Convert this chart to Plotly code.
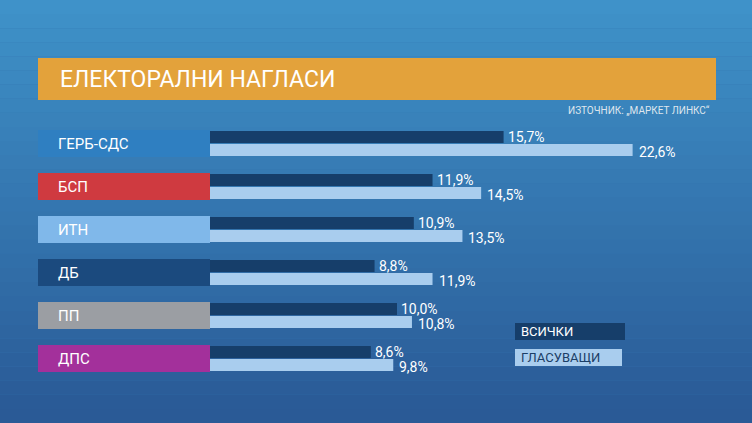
import plotly.graph_objects as go

parties = ["ГЕРБ-СДС", "БСП", "ИТН", "ДБ", "ПП", "ДПС"]
all_vals = [15.7, 11.9, 10.9, 8.8, 10.0, 8.6]
voters_vals = [22.6, 14.5, 13.5, 11.9, 10.8, 9.8]
party_colors = ["#2f7fc1", "#cf3a40", "#80b8ea", "#1b4a7e", "#9b9ea3", "#a3309b"]
title = "ЕЛЕКТОРАЛНИ НАГЛАСИ"
source = "ИЗТОЧНИК: „МАРКЕТ ЛИНКС“"
legend_labels = ["ВСИЧКИ", "ГЛАСУВАЩИ"]

W, H = 752, 423
px_per = 18.7
x0px = 210
xr = [-x0px / px_per, (W - x0px) / px_per]
def X(px):
    return (px - x0px) / px_per

rows = [143.5 + 43 * i for i in range(len(parties))]
dark, light = "#163e6a", "#a9cdee"
fnt = "Roboto"
fmt = lambda v: f"{v:.1f}%".replace(".", ",")

fig = go.Figure()
fig.add_trace(go.Bar(y=[r - 6.5 for r in rows], x=all_vals, orientation="h", width=12,
                     marker=dict(color=dark, line_width=0)))
fig.add_trace(go.Bar(y=[r + 6.5 for r in rows], x=voters_vals, orientation="h", width=12,
                     marker=dict(color=light, line_width=0)))

shapes = []
n = 30
top = (0x3f, 0x92, 0xc9); bot = (0x2a, 0x5a, 0x96)
for i in range(n):
    t = i / (n - 1)
    c = tuple(int(top[k] + (bot[k] - top[k]) * t) for k in range(3))
    shapes.append(dict(type="rect", xref="paper", yref="paper", x0=0, x1=1,
                       y0=1 - (i + 1) / n, y1=1 - i / n, fillcolor="rgb(%d,%d,%d)" % c,
                       line_width=0, layer="below"))
shapes.append(dict(type="rect", xref="x", yref="y", x0=X(38), x1=X(716), y0=58, y1=100,
                   fillcolor="#e3a23b", line_width=0, layer="below"))
ann = [dict(x=X(58), y=79, xref="x", yref="y", text=title, showarrow=False, xanchor="left",
            font=dict(color="white", size=23, family=fnt)),
       dict(x=X(712), y=110, xref="x", yref="y", text=source, showarrow=False, xanchor="right",
            font=dict(color="#dfe6ee", size=10, family=fnt))]
for p, c, r, a, v in zip(parties, party_colors, rows, all_vals, voters_vals):
    shapes.append(dict(type="rect", xref="x", yref="y", x0=X(38), x1=X(210), y0=r - 13.5, y1=r + 13.5,
                       fillcolor=c, line_width=0, layer="below"))
    ann.append(dict(x=X(56), y=r, xref="x", yref="y", text=p, showarrow=False, xanchor="left",
                    font=dict(color="white", size=15, family=fnt)))
    ann.append(dict(x=a, y=r - 7, xref="x", yref="y", text=fmt(a), showarrow=False, xanchor="left",
                    xshift=2, font=dict(color="white", size=14, family=fnt)))
    ann.append(dict(x=v, y=r + 8, xref="x", yref="y", text=fmt(v), showarrow=False, xanchor="left",
                    xshift=4, font=dict(color="white", size=14, family=fnt)))
shapes.append(dict(type="rect", xref="x", yref="y", x0=X(515), x1=X(625), y0=323, y1=340,
                   fillcolor=dark, line_width=0))
shapes.append(dict(type="rect", xref="x", yref="y", x0=X(515), x1=X(622), y0=349, y1=366,
                   fillcolor=light, line_width=0))
ann.append(dict(x=X(519), y=331.5, xref="x", yref="y", text=legend_labels[0], showarrow=False,
                xanchor="left", font=dict(color="white", size=13, family=fnt)))
ann.append(dict(x=X(519), y=357.5, xref="x", yref="y", text=legend_labels[1], showarrow=False,
                xanchor="left", font=dict(color="#1b3e66", size=13, family=fnt)))

fig.update_layout(width=W, height=H, margin=dict(l=0, r=0, t=0, b=0), showlegend=False,
                  barmode="overlay", plot_bgcolor="rgba(0,0,0,0)", paper_bgcolor="#3576b0",
                  xaxis=dict(range=xr, visible=False, fixedrange=True),
                  yaxis=dict(range=[H, 0], visible=False, fixedrange=True),
                  shapes=shapes, annotations=ann)
fig.write_html("out.html", config={"displayModeBar": False})
with open("out.html", encoding="utf-8") as f:
    html = f.read()
html = html.replace("<head>", "<head><style>body{margin:0;overflow:hidden}</style>", 1)
with open("out.html", "w", encoding="utf-8") as f:
    f.write(html)
